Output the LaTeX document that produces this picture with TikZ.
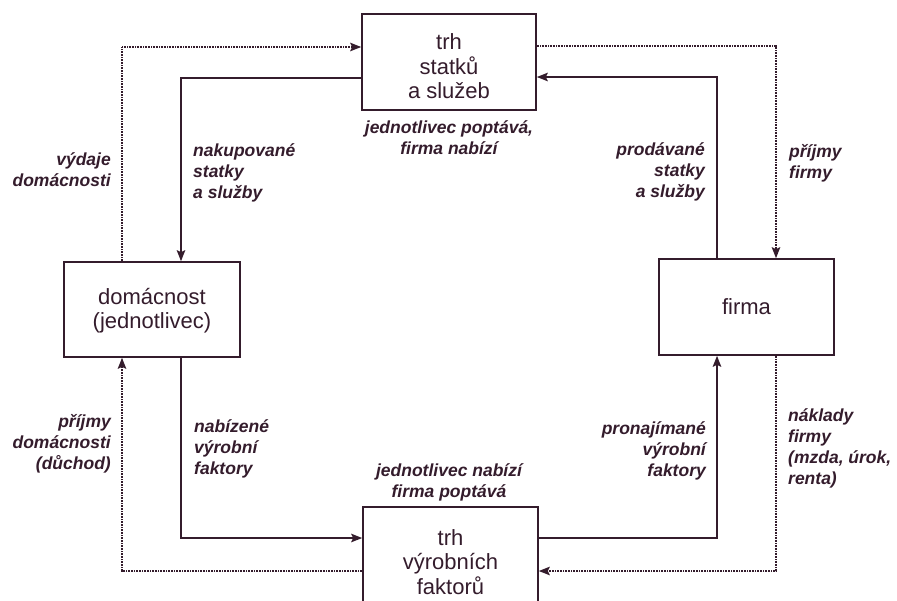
\documentclass[tikz,border=0pt]{standalone}
\usepackage{fontspec}
\setmainfont{Liberation Sans}
\usetikzlibrary{arrows.meta}
\definecolor{ink}{RGB}{52,28,44}
\tikzset{
  box/.style={draw=ink, line width=1.6pt, fill=white, text=ink, align=center,
    inner sep=0pt, font=\fontsize{22}{24.5}\selectfont},
  goods/.style={draw=ink, line width=1.7pt, -{Stealth[length=11pt,width=8.5pt,inset=2pt]}},
  money/.style={draw=ink, line width=1.5pt, dash pattern=on 1pt off 0.6pt,
    -{Stealth[length=11pt,width=8.5pt,inset=2pt]}},
  lbl/.style={text=ink, inner sep=0pt,
    font=\fontsize{17.5}{21}\selectfont\bfseries\itshape}
}
\begin{document}
\begin{tikzpicture}[x=1pt,y=-1pt]
  \fill[white] (0,0) rectangle (897,600);
  \useasboundingbox (0,0) rectangle (897,600);
  \clip (0,0) rectangle (897,600);

  % markets and economic agents
  \node[box, minimum width=174pt, minimum height=96pt] (T) at (449,62)
    {\rule{0pt}{25pt}trh\\statků\\a služeb};
  \node[box, minimum width=176pt, minimum height=95pt] (H) at (152,309.5)
    {\rule{0pt}{19pt}domácnost\\(jednotlivec)};
  \node[box, minimum width=175pt, minimum height=96pt] (F) at (746.5,307)
    {firma};
  \node[box, minimum width=175pt, minimum height=110pt] (B) at (450.5,562)
    {trh\\výrobních\\faktorů};

  % flows of money (dotted)
  \draw[money] ([xshift=-30pt]H.north) |- ([yshift=15pt]T.west);
  \draw[money] ([yshift=16pt]T.east) -| ([xshift=29.5pt]F.north);
  \draw[money] ([xshift=29.5pt]F.south) |- ([yshift=-9pt]B.east);
  \draw[money] ([yshift=-9pt]B.west) -| ([xshift=-30pt]H.south);

  % flows of goods and factors (solid)
  \draw[goods] ([yshift=-16pt]T.west) -| ([xshift=29pt]H.north);
  \draw[goods] ([xshift=-29.5pt]F.north) |- ([yshift=-15pt]T.east);
  \draw[goods] ([xshift=29pt]H.south) |- ([yshift=24pt]B.west);
  \draw[goods] ([yshift=24pt]B.east) -| ([xshift=-29.5pt]F.south);

  % labels
  \node[lbl, align=center] (lt) at (449,138) {jednotlivec poptává,\\firma nabízí};
  \node[lbl, align=center] (lb) at (449,482) {jednotlivec nabízí\\firma poptává};
  \node[lbl, align=right, anchor=east] (l1) at (111,170) {výdaje\\domácnosti};
  \node[lbl, align=left, anchor=west] (l2) at (193,173) {nakupované\\statky\\a služby};
  \node[lbl, align=right, anchor=east] (l3) at (705,172) {prodávané\\statky\\a služby};
  \node[lbl, align=left, anchor=west] (l4) at (789,163) {příjmy\\firmy};
  \node[lbl, align=right, anchor=east] (l5) at (111,444) {příjmy\\domácnosti\\(důchod)};
  \node[lbl, align=left, anchor=west] (l6) at (194,449) {nabízené\\výrobní\\faktory};
  \node[lbl, align=right, anchor=east] (l7) at (706,451) {pronajímané\\výrobní\\faktory};
  \node[lbl, align=left, anchor=west] (l8) at (788,448) {náklady\\firmy\\(mzda, úrok,\\renta)};
\end{tikzpicture}
\end{document}
